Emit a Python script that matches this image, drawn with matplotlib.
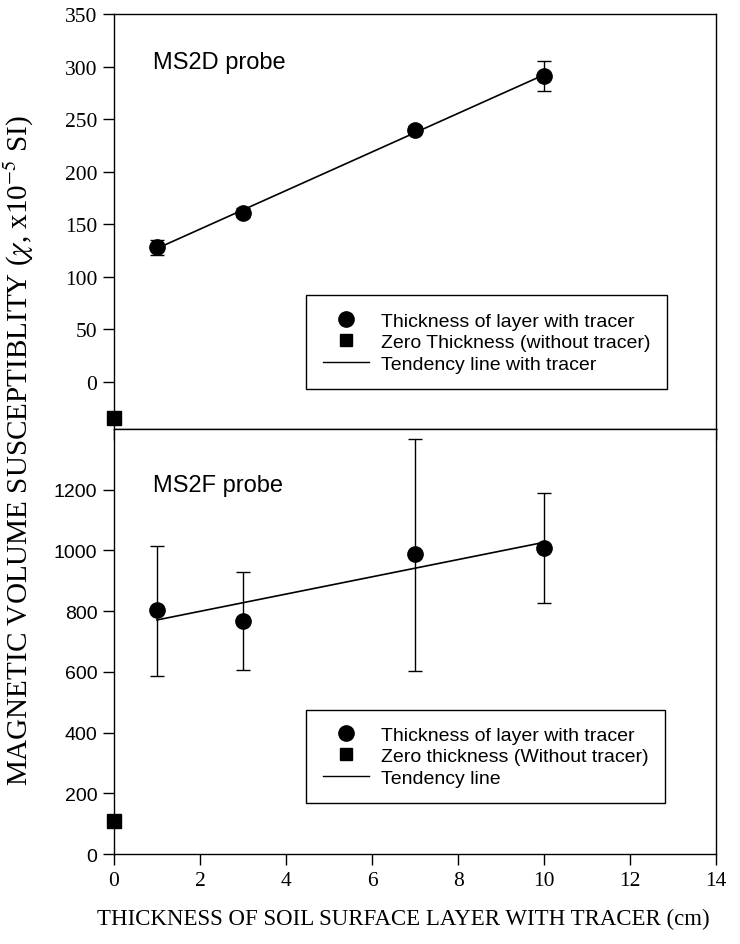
import numpy as np
import matplotlib
matplotlib.use("Agg")
import matplotlib.pyplot as plt
from matplotlib.lines import Line2D

plt.rcParams['mathtext.fontset'] = 'stix'

# thickness of the surface layer with tracer (cm)
thickness = [1, 3, 7, 10]

# MS2D probe (x10^-5 SI)
ms2d_mean = [128, 161, 240, 291]
ms2d_err = [7, 4, 3, 14]
ms2d_zero = -35

# MS2F probe (x10^-5 SI)
ms2f_mean = [803, 767, 989, 1009]
ms2f_err_low = [215, 159, 385, 183]
ms2f_err_high = [212, 162, 379, 179]
ms2f_zero = 109

top_yticks = [0, 50, 100, 150, 200, 250, 300, 350]
bot_yticks = [0, 200, 400, 600, 800, 1000, 1200]
xticks = [0, 2, 4, 6, 8, 10, 12, 14]

SERIF = 'Liberation Serif'
SANS = 'Liberation Sans'

fig = plt.figure(figsize=(7.4, 9.45), dpi=100)
ax1 = fig.add_axes([0.154, 0.545, 0.814, 0.439])
ax2 = fig.add_axes([0.154, 0.095, 0.814, 0.450])


def style_axis(ax, tick_family, tick_size):
    for sp in ax.spines.values():
        sp.set_linewidth(1.0)
    ax.tick_params(direction='out', length=8, width=1.0, pad=4)
    ax.set_xlim(0, 14)
    ax.set_xticks(xticks)
    for lab in ax.get_yticklabels():
        lab.set_fontfamily(tick_family)
        lab.set_fontsize(tick_size)


def tendency(ax, x, y):
    slope, icpt = np.polyfit(x, y, 1)
    xx = np.array([x[0], x[-1]])
    ax.plot(xx, slope * xx + icpt, color='black', lw=1.2, zorder=2)


def add_legend(ax, labels, anchor):
    handles = [
        Line2D([], [], ls='none', marker='o', color='black', ms=11),
        Line2D([], [], ls='none', marker='s', color='black', ms=8.5),
        Line2D([], [], color='black', lw=1.0),
    ]
    leg = ax.legend(handles, labels, loc='lower left', bbox_to_anchor=anchor,
                    prop={'family': SANS, 'size': 14}, frameon=True,
                    fancybox=False, edgecolor='black', framealpha=1,
                    labelspacing=0.2, handlelength=2.4, handletextpad=0.6,
                    borderpad=0.85, borderaxespad=0)
    leg.get_frame().set_linewidth(1.0)


# --- top panel: MS2D ---
ax1.errorbar(thickness, ms2d_mean, yerr=ms2d_err, fmt='o', color='black',
             ms=11, capsize=5, elinewidth=1.0, capthick=1.0, zorder=3)
ax1.plot([0], [ms2d_zero], 's', color='black', ms=9.5, clip_on=False, zorder=4)
tendency(ax1, thickness, ms2d_mean)
ax1.set_ylim(-45, 350)
ax1.set_yticks(top_yticks)
style_axis(ax1, SERIF, 15.5)
ax1.tick_params(axis='x', labelbottom=False)
ax1.text(0.9, 304, 'MS2D probe', family=SANS, fontsize=17, va='center')
add_legend(ax1, ['Thickness of layer with tracer',
                 'Zero Thickness (without tracer)',
                 'Tendency line with tracer'], (0.319, 0.096))

# --- bottom panel: MS2F ---
ax2.errorbar(thickness, ms2f_mean, yerr=[ms2f_err_low, ms2f_err_high], fmt='o',
             color='black', ms=11, capsize=5, elinewidth=1.0, capthick=1.0,
             zorder=3)
ax2.plot([0], [ms2f_zero], 's', color='black', ms=9.5, clip_on=False, zorder=4)
tendency(ax2, thickness, ms2f_mean)
ax2.set_ylim(0, 1400)
ax2.set_yticks(bot_yticks)
style_axis(ax2, SANS, 14)
ax2.set_xticklabels([str(v) for v in xticks], family=SERIF, fontsize=15.5)
ax2.text(0.9, 1215, 'MS2F probe', family=SANS, fontsize=17, va='center')
add_legend(ax2, ['Thickness of layer with tracer',
                 'Zero thickness (Without tracer)',
                 'Tendency line'], (0.319, 0.12))

ax2.set_xlabel('THICKNESS OF SOIL SURFACE LAYER WITH TRACER (cm)',
               family=SERIF, fontsize=16.5)
ax2.xaxis.set_label_coords(0.48, -0.125)
fig.text(0.026, 0.523, r'MAGNETIC VOLUME SUSCEPTIBLITY ($\chi$, x10$^{-5}$ SI)',
         family=SERIF, fontsize=21, rotation=90, ha='center', va='center')

fig.savefig('out.png', dpi=100)
